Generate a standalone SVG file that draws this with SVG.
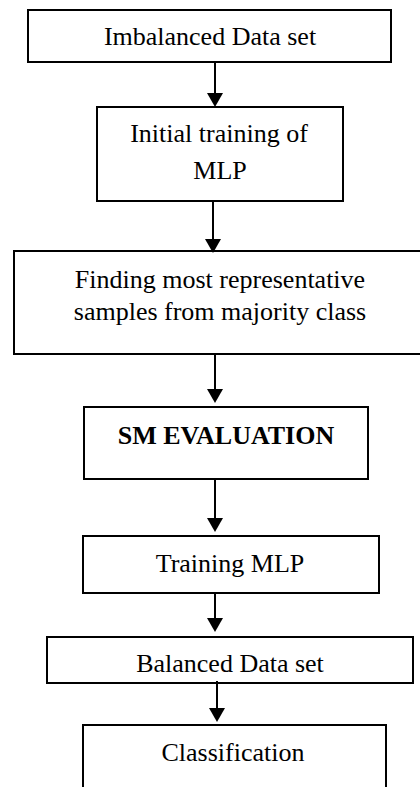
<svg xmlns="http://www.w3.org/2000/svg" width="420" height="787" viewBox="0 0 420 787">
<style>
rect.box{fill:#fff;stroke:#000;stroke-width:2}
text{font-family:"Liberation Serif","Times New Roman",serif;font-size:26px;fill:#000;text-anchor:middle}
.b{font-weight:bold}
line.c{stroke:#000;stroke-width:2}
</style>
<defs>
<marker id="ah" markerUnits="userSpaceOnUse" viewBox="0 0 14 16" refX="0" refY="8" markerWidth="14" markerHeight="16" orient="auto">
<path d="M0,0 L14,8 L0,16 z" fill="#000"/>
</marker>
</defs>
<rect width="420" height="787" fill="#fff"/>
<g id="n1"><rect class="box" x="28" y="10" width="363" height="52"/><text x="210" y="45">Imbalanced Data set</text></g>
<g id="n2"><rect class="box" x="97" y="107" width="246" height="94"/><text x="219" y="142">Initial training of</text><text x="220" y="179">MLP</text></g>
<g id="n3"><rect class="box" x="14" y="251" width="410" height="103"/><text x="220" y="288">Finding most representative</text><text x="220" y="320">samples from majority class</text></g>
<g id="n4"><rect class="box" x="84" y="407" width="284" height="72"/><text class="b" x="226" y="444">SM EVALUATION</text></g>
<g id="n5"><rect class="box" x="83" y="536" width="296" height="57"/><text x="230" y="572">Training MLP</text></g>
<g id="n6"><rect class="box" x="47" y="637" width="366" height="46"/><text x="230" y="672">Balanced Data set</text></g>
<g id="n7"><rect class="box" x="83" y="725" width="303" height="80"/><text x="233" y="761">Classification</text></g>
<g id="connectors">
<line class="c" x1="215" y1="62" x2="215" y2="93" marker-end="url(#ah)"/>
<line class="c" x1="213" y1="201" x2="213" y2="239" marker-end="url(#ah)"/>
<line class="c" x1="215" y1="354" x2="215" y2="389" marker-end="url(#ah)"/>
<line class="c" x1="215" y1="479" x2="215" y2="518" marker-end="url(#ah)"/>
<line class="c" x1="215" y1="593" x2="215" y2="618" marker-end="url(#ah)"/>
<line class="c" x1="217" y1="681" x2="217" y2="708" marker-end="url(#ah)"/>
</g>
</svg>
